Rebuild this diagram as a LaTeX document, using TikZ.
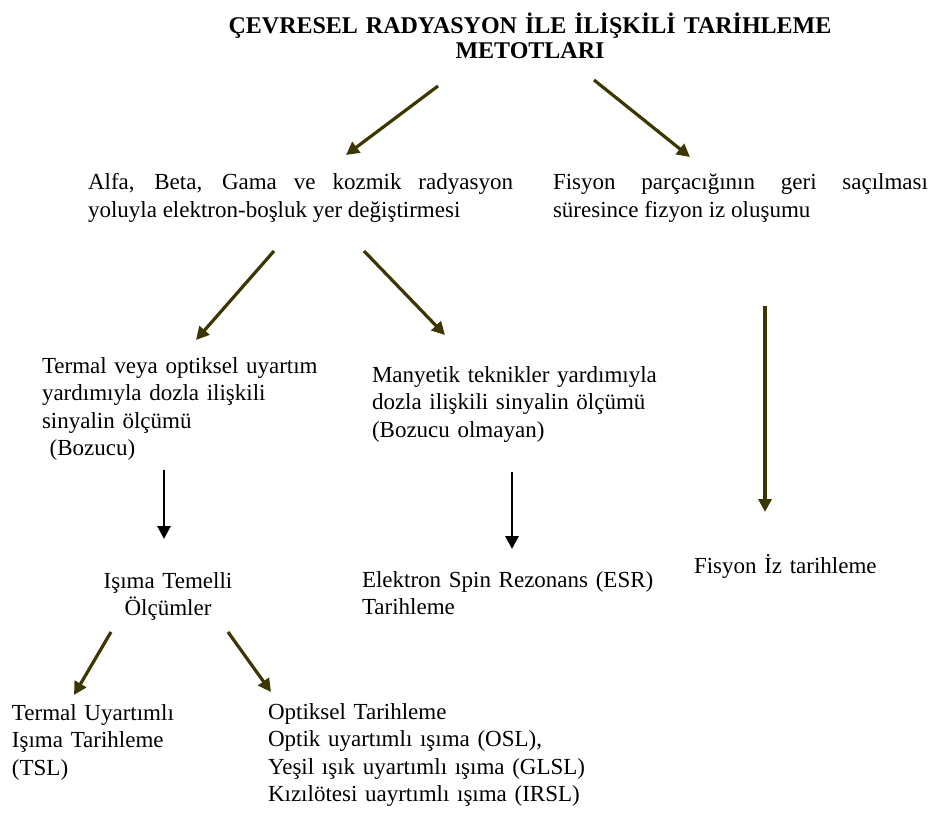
\documentclass[tikz,border=0pt]{standalone}
\usepackage{fontspec}
\setmainfont{Liberation Serif}
\usepackage{xcolor}
\usepackage{tikz}
\usetikzlibrary{arrows.meta}

\definecolor{arrowolive}{RGB}{60,54,0}

\begin{document}
\begin{tikzpicture}[x=1pt, y=-1pt,
                        every node/.style={inner sep=0pt, outer sep=0pt, font=\fontsize{23}{27.5}\selectfont},
                        txt/.style={anchor=base west, text width=380pt, align=left},
                        olivearrow/.style={draw=arrowolive, line width=3.2pt, -{Triangle[length=13pt,width=13pt]}},
                        blackarrow/.style={draw=black, line width=2.8pt, -{Triangle[length=13pt,width=13pt]}}]
                        \useasboundingbox (0,0) rectangle (932,813);
                        % title
                        \node[anchor=base, text width=700pt, align=center, font=\bfseries\fontsize{24}{25}\selectfont] (title) at (530,34)
                            {ÇEVRESEL RADYASYON İLE İLİŞKİLİ TARİHLEME\\METOTLARI};
                        % second level
                        \node[txt, text width=425pt, align=justify] (radyasyon) at (88,190)
                            {Alfa, Beta, Gama ve kozmik radyasyon\linebreak yoluyla elektron-boşluk yer değiştirmesi};
                        \node[txt, text width=375pt, align=justify] (fisyon) at (553,190)
                            {Fisyon parçacığının geri saçılması\linebreak süresince fizyon iz oluşumu};
                        % third level
                        \node[txt] (termal) at (42,373)
                            {Termal veya optiksel uyartım\\yardımıyla dozla ilişkili\\sinyalin ölçümü\\\ (Bozucu)};
                        \node[txt] (manyetik) at (372,382)
                            {Manyetik teknikler yardımıyla\\dozla ilişkili sinyalin ölçümü\\(Bozucu olmayan)};
                        % fourth level
                        \node[anchor=base, text width=200pt, align=center] (isima) at (168,588) {Işıma Temelli\\Ölçümler};
                        \node[txt] (esr) at (362,587) {Elektron Spin Rezonans (ESR)\\Tarihleme};
                        \node[txt, text width=235pt] (fisyoniz) at (694,573) {Fisyon İz tarihleme};
                        % fifth level
                        \node[txt, text width=240pt] (tsl) at (12,720) {Termal Uyartımlı\\Işıma Tarihleme\\(TSL)};
                        \node[txt] (optiksel) at (268,719)
                            {Optiksel Tarihleme\\Optik uyartımlı ışıma (OSL),\\Yeşil ışık uyartımlı ışıma (GLSL)\\Kızılötesi uayrtımlı ışıma (IRSL)};
                        % arrow ends
                        \coordinate (t1) at (438,86);   \coordinate (r1) at (346,155);
                        \coordinate (t2) at (594,80);   \coordinate (f1) at (690,157);
                        \coordinate (r2) at (274,251);  \coordinate (c1) at (196,340);
                        \coordinate (r3) at (364,251);  \coordinate (m1) at (445,335);
                        \coordinate (f2) at (765,306);  \coordinate (g1) at (765,512);
                        \coordinate (c2) at (164,470);  \coordinate (i1) at (164,539);
                        \coordinate (m2) at (512,472);  \coordinate (e1) at (512,549);
                        \coordinate (i2) at (111,632);  \coordinate (h1) at (74,695);
                        \coordinate (i3) at (228,632);  \coordinate (o1) at (271,692);
                        \draw[olivearrow] (t1) -- (r1);
                        \draw[olivearrow] (t2) -- (f1);
                        \draw[olivearrow] (r2) -- (c1);
                        \draw[olivearrow] (r3) -- (m1);
                        \draw[olivearrow] (f2) -- (g1);
                        \draw[blackarrow] (c2) -- (i1);
                        \draw[blackarrow] (m2) -- (e1);
                        \draw[olivearrow] (i2) -- (h1);
                        \draw[olivearrow] (i3) -- (o1);
                    \end{tikzpicture}
\end{document}
